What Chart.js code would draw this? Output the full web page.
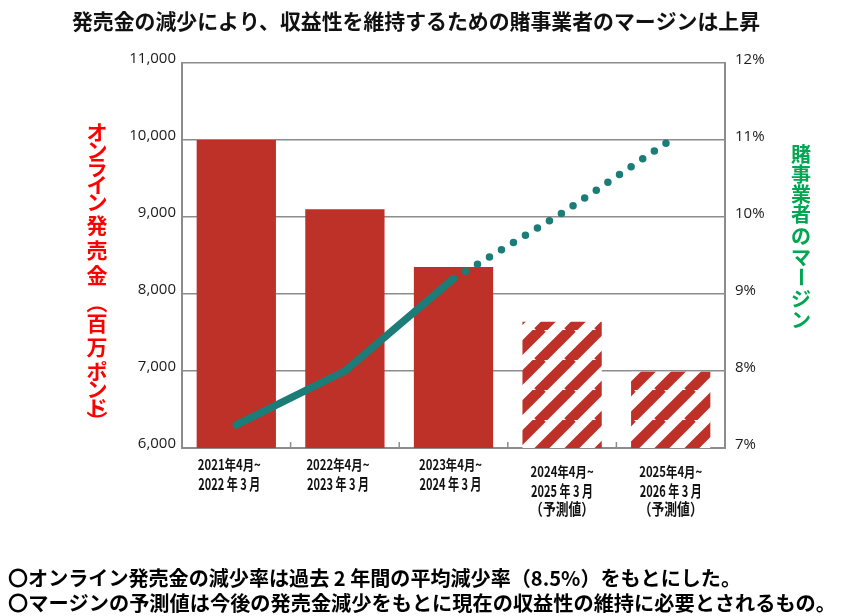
<!DOCTYPE html>
<html>
<head>
<meta charset="utf-8">
<script src="https://cdn.jsdelivr.net/npm/chart.js@4"></script>
<style>
  html, body { margin: 0; padding: 0; background: #fff; }
  #wrap { width: 849px; height: 616px; }
</style>
</head>
<body>
<div id="wrap"><canvas id="myChart" width="849" height="616"></canvas></div>
<script>
// data
var periods = [
	["2021年4月~", "2022 年 3 月"],
	["2022年4月~", "2023 年 3 月"],
	["2023年4月~", "2024 年 3 月"],
	["2024年4月~", "2025 年 3 月", "（予測値）"],
	["2025年4月~", "2026 年 3 月", "（予測値）"]
];
var sales = [10000, 9100, 8350, 7640, 6990];      // 百万ポンド
var margin = [7.3, 8.0, 9.2, 10.05, 11.0];        // %
var isForecast = [false, false, false, true, true];
var salesTicks = [6000, 7000, 8000, 9000, 10000, 11000];
var marginTicks = [7, 8, 9, 10, 11, 12];

var titleText = "発売金の減少により、収益性を維持するための賭事業者のマージンは上昇";
var leftTitle = "オンライン発売金（百万ポンド）";
var rightTitle = "賭事業者のマージン";
var notes = [
	"〇オンライン発売金の減少率は過去 2 年間の平均減少率（8.5%）をもとにした。",
	"〇マージンの予測値は今後の発売金減少をもとに現在の収益性の維持に必要とされるもの。"
];

var RED = "#BE3129";
var TEAL = "#1B7C78";
var GRID = "#8c8c8c";
var CJK = "'Noto Sans CJK JP', 'Noto Sans', sans-serif";

function makeHatch() {
	var s = 30;
	var c = document.createElement("canvas");
	c.width = s; c.height = s;
	var g = c.getContext("2d");
	g.fillStyle = "#fff";
	g.fillRect(0, 0, s, s);
	g.strokeStyle = RED;
	g.lineWidth = 10.5;
	for (var k = 0; k <= 2; k++) {
		g.beginPath();
		g.moveTo(k * s - s - 2, s + 2);
		g.lineTo(k * s + 2, -2);
		g.stroke();
	}
	return g.createPattern(c, "repeat");
}
var hatch = makeHatch();

// text squeezed to a given width
function fitText(ctx, text, x, y, font, width, align) {
	ctx.save();
	ctx.font = font;
	var w = ctx.measureText(text).width;
	var sx = width ? width / w : 1;
	ctx.translate(x, y);
	ctx.scale(sx, 1);
	ctx.textAlign = align || "left";
	ctx.textBaseline = "middle";
	ctx.fillText(text, 0, 0);
	ctx.restore();
}

function verticalText(ctx, text, x, ys, font, color) {
	ctx.save();
	ctx.font = font;
	ctx.fillStyle = color;
	ctx.textAlign = "center";
	ctx.textBaseline = "middle";
	var chars = Array.from(text);
	for (var i = 0; i < chars.length; i++) {
		var ch = chars[i];
		ctx.save();
		ctx.translate(x, ys[i]);
		if (ch === "（" || ch === "）" || ch === "ー") ctx.rotate(Math.PI / 2);
		ctx.fillText(ch, 0, 0);
		ctx.restore();
	}
	ctx.restore();
}

var decor = {
	id: "decor",
	afterDraw: function (chart) {
		var ctx = chart.ctx;
		var xs = chart.scales.x;
		var area = chart.chartArea;

		ctx.fillStyle = "#111";
		fitText(ctx, titleText, 416, 21, "bold 21px " + CJK, 688, "center");

		ctx.fillStyle = "#000";
		fitText(ctx, notes[0], 8, 578, "bold 20px " + CJK, 733, "left");
		fitText(ctx, notes[1], 8, 603, "bold 20px " + CJK, 828, "left");

		verticalText(ctx, leftTitle, 97,
			[132, 150, 167, 185, 202, 225, 250, 275, 303, 323, 347, 371, 389, 407, 421],
			"bold 21px " + CJK, "#FF0000");
		verticalText(ctx, rightTitle, 801,
			[154, 174, 194, 214, 236, 257, 277, 299, 320],
			"bold 20px " + CJK, "#00A651");

		// small category ticks
		ctx.save();
		ctx.strokeStyle = GRID;
		ctx.lineWidth = 1.5;
		for (var i = 1; i < periods.length; i++) {
			var bx = (xs.getPixelForValue(i - 1) + xs.getPixelForValue(i)) / 2;
			ctx.beginPath();
			ctx.moveTo(bx, area.bottom - 6);
			ctx.lineTo(bx, area.bottom);
			ctx.stroke();
		}
		ctx.restore();

		// category labels
		ctx.fillStyle = "#111";
		for (var j = 0; j < periods.length; j++) {
			var cx = xs.getPixelForValue(j) + (j < 2 ? -7 : (j === 2 ? -3 : 0));
			var top = isForecast[j] ? 472 : 465;
			var lines = periods[j];
			fitText(ctx, lines[0], cx, top, "bold 14px " + CJK, 63, "center");
			fitText(ctx, lines[1], cx, top + 19, "bold 16px " + CJK, 62, "center");
			if (lines[2]) fitText(ctx, lines[2], cx, top + 37, "bold 16px " + CJK, 64, "center");
		}
	}
};

var ctx = document.getElementById("myChart").getContext("2d");
var myChart = new Chart(ctx, {
	type: "bar",
	data: {
		labels: periods,
		datasets: [
			{
				type: "line",
				label: "マージン",
				data: margin,
				yAxisID: "y1",
				borderColor: TEAL,
				borderWidth: 7.5,
				borderCapStyle: "round",
				borderJoinStyle: "round",
				pointRadius: 0,
				tension: 0,
				order: 0,
				segment: {
					borderDash: function (c) { return c.p0DataIndex >= 2 ? [0, 14] : undefined; }
				}
			},
			{
				label: "オンライン発売金",
				data: sales,
				yAxisID: "y",
				backgroundColor: sales.map(function (v, i) { return isForecast[i] ? hatch : RED; }),
				borderWidth: 0,
				barPercentage: 0.73,
				categoryPercentage: 1,
				order: 1
			}
		]
	},
	options: {
		responsive: false,
		animation: false,
		layout: { padding: { top: 63, left: 0, right: 0, bottom: 0 } },
		plugins: { legend: { display: false }, tooltip: { enabled: false }, title: { display: false } },
		scales: {
			x: {
				offset: true,
				grid: { display: false },
				border: { display: true, color: GRID, width: 2 },
				ticks: { display: false },
				afterFit: function (s) { s.height = 168; }
			},
			y: {
				position: "left",
				min: salesTicks[0],
				max: salesTicks[salesTicks.length - 1],
				afterBuildTicks: function (s) { s.ticks = salesTicks.map(function (v) { return { value: v }; }); },
				grid: { color: GRID, lineWidth: 1.5, drawTicks: false },
				border: { display: true, color: GRID, width: 2 },
				ticks: {
					padding: 6,
					labelOffset: -4,
					color: "#1a1a1a",
					font: { family: "'Open Sans', sans-serif", size: 15 },
					callback: function (v) { return v.toLocaleString("en-US"); }
				},
				afterFit: function (s) { s.width = 182; }
			},
			y1: {
				position: "right",
				min: marginTicks[0],
				max: marginTicks[marginTicks.length - 1],
				afterBuildTicks: function (s) { s.ticks = marginTicks.map(function (v) { return { value: v }; }); },
				grid: { display: false, drawTicks: false },
				border: { display: true, color: GRID, width: 2 },
				ticks: {
					padding: 10,
					labelOffset: -3,
					color: "#1a1a1a",
					font: { family: "'Open Sans', sans-serif", size: 15 },
					callback: function (v) { return v + "%"; }
				},
				afterFit: function (s) { s.width = 124; }
			}
		}
	},
	plugins: [decor]
});
</script>
</body>
</html>
